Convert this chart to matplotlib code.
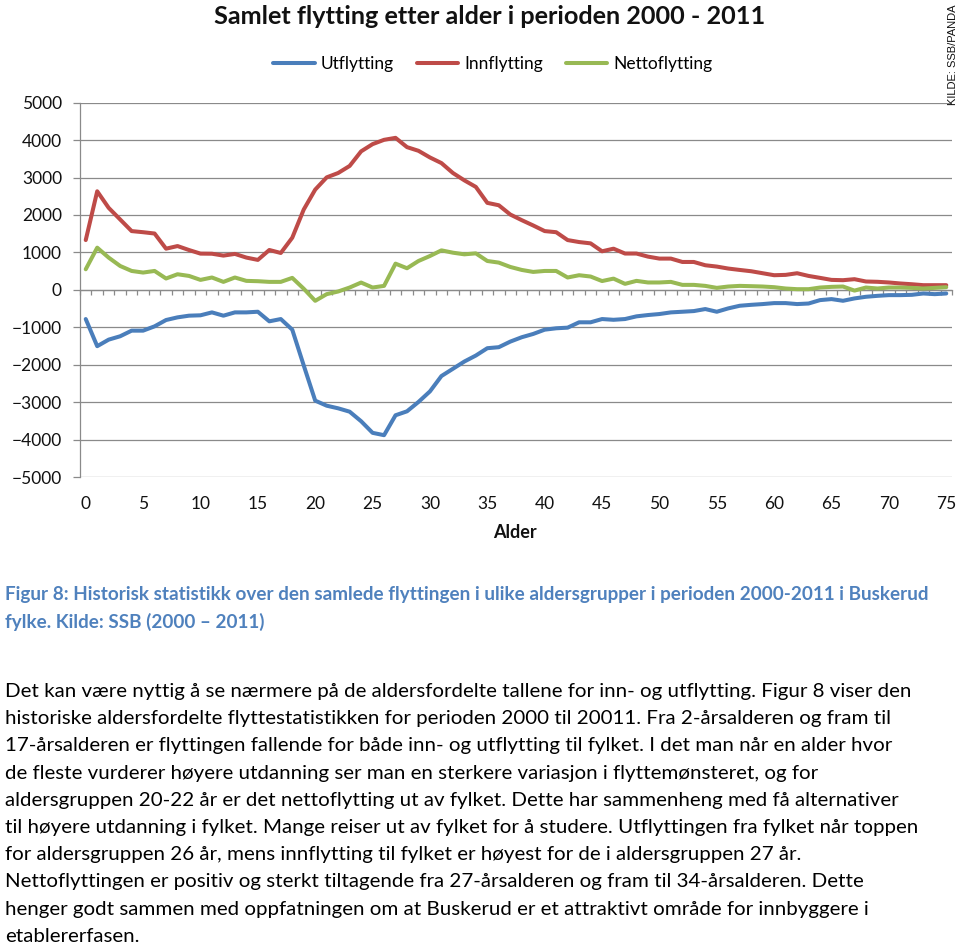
import numpy as np
import matplotlib
matplotlib.use("Agg")
import matplotlib.pyplot as plt

# ---------------- data ----------------
ages = list(range(76))
xtick_labels = [str(a) for a in range(0, 76, 5)]

utflytting = [-780, -1505, -1330, -1240, -1090, -1090, -975, -806, -735, -690,
              -680, -602, -690, -602, -602, -585, -841, -780, -1064, -2020,
              -2960, -3095, -3165, -3255, -3510, -3820, -3883, -3351, -3245, -2995,
              -2713, -2303, -2109, -1915, -1755, -1559, -1532, -1383, -1266, -1178,
              -1064, -1027, -1010, -867, -867, -780, -800, -780, -708, -673,
              -646, -602, -585, -567, -513, -585, -495, -425, -400, -380,
              -354, -354, -380, -365, -274, -247, -292, -229, -185, -160,
              -141, -141, -133, -97, -115, -97]

innflytting = [1330, 2633, 2190, 1880, 1570, 1540, 1505, 1100, 1170, 1064,
               968, 965, 915, 960, 862, 800, 1065, 985, 1393, 2146,
               2678, 3005, 3122, 3310, 3700, 3893, 4008, 4061, 3813, 3715,
               3537, 3387, 3122, 2925, 2750, 2324, 2260, 2013, 1862, 1720,
               1570, 1540, 1330, 1277, 1242, 1030, 1100, 970, 970, 888,
               835, 835, 745, 745, 657, 622, 569, 532, 497, 444,
               391, 400, 444, 372, 320, 266, 258, 285, 223, 215,
               197, 170, 150, 125, 125, 125]

nettoflytting = [550, 1127, 861, 638, 505, 462, 505, 303, 417, 372,
                 266, 330, 213, 330, 240, 231, 213, 213, 320, 30,
                 -293, -115, -44, 62, 195, 62, 106, 700, 577, 771,
                 904, 1055, 993, 949, 975, 771, 728, 612, 532, 479,
                 505, 505, 330, 391, 356, 235, 300, 160, 240, 197,
                 197, 213, 133, 133, 106, 53, 89, 106, 98, 89,
                 71, 36, 18, 18, 62, 80, 89, -20, 62, 36,
                 62, 62, 53, 36, 53, 71]

series_names = ["Utflytting", "Innflytting", "Nettoflytting"]
series_colors = ["#4A7EBB", "#BE4B48", "#98B954"]

title = "Samlet flytting etter alder i perioden 2000 - 2011"
xlabel = "Alder"
source = "KILDE: SSB/PANDA"

caption_lines = [
    "Figur 8: Historisk statistikk over den samlede flyttingen i ulike aldersgrupper i perioden 2000-2011 i Buskerud",
    "fylke. Kilde: SSB (2000 \u2013 2011)",
]
body_lines = [
    "Det kan være nyttig å se nærmere på de aldersfordelte tallene for inn- og utflytting. Figur 8 viser den",
    "historiske aldersfordelte flyttestatistikken for perioden 2000 til 20011. Fra 2-årsalderen og fram til",
    "17-årsalderen er flyttingen fallende for både inn- og utflytting til fylket. I det man når en alder hvor",
    "de fleste vurderer høyere utdanning ser man en sterkere variasjon i flyttemønsteret, og for",
    "aldersgruppen 20-22 år er det nettoflytting ut av fylket. Dette har sammenheng med få alternativer",
    "til høyere utdanning i fylket. Mange reiser ut av fylket for å studere. Utflyttingen fra fylket når toppen",
    "for aldersgruppen 26 år, mens innflytting til fylket er høyest for de i aldersgruppen 27 år.",
    "Nettoflyttingen er positiv og sterkt tiltagende fra 27-årsalderen og fram til 34-årsalderen. Dette",
    "henger godt sammen med oppfatningen om at Buskerud er et attraktivt område for innbyggere i",
    "etablererfasen.",
]

# ---------------- figure ----------------
W, H = 960, 944
plt.rcParams['font.family'] = ['Lato', 'DejaVu Sans']
fig = plt.figure(figsize=(W / 100, H / 100), dpi=100)
renderer = fig.canvas.get_renderer()


def fy(py):
    return 1 - py / H


def fx(px):
    return px / W


def fit(t, target_w):
    bb = t.get_window_extent(renderer)
    t.set_fontsize(t.get_fontsize() * target_w / bb.width)
    return t.get_fontsize()


grid_c = "#8a8a8a"
ax = fig.add_axes([fx(80), fy(477), fx(952) - fx(80), fy(102.7) - fy(477)])
for vals, name, col in zip([utflytting, innflytting, nettoflytting], series_names, series_colors):
    ax.plot(ages, vals, color=col, lw=2.9, label=name, solid_joinstyle='round',
            solid_capstyle='round', zorder=3)

ax.set_xlim(-0.5, 75.5)
ax.set_ylim(-5000, 5000)
ax.set_yticks(np.arange(-5000, 5001, 1000))
ax.yaxis.grid(True, color=grid_c, lw=0.9)
ax.set_axisbelow(True)
for s in ["top", "right"]:
    ax.spines[s].set_visible(False)
ax.spines["left"].set_color(grid_c)
ax.spines["left"].set_linewidth(0.9)
ax.spines["bottom"].set_position(("data", 0))
ax.spines["bottom"].set_color(grid_c)
ax.spines["bottom"].set_linewidth(0.9)
ax.tick_params(axis="y", length=5, color=grid_c, width=0.9, pad=8, labelsize=12.5,
               labelcolor="#111111")
ax.set_xticks(np.arange(-0.5, 76, 1))
ax.tick_params(axis="x", length=3.6, color=grid_c, width=0.9, labelbottom=False)

sec = ax.secondary_xaxis("bottom")
sec.set_xticks(np.arange(0, 76, 5))
sec.set_xticklabels(xtick_labels)
sec.tick_params(length=0, pad=14, labelsize=12.5, labelcolor="#111111")
sec.spines["bottom"].set_visible(False)

# title
t = fig.text(fx(490), fy(17), title, ha="center", va="center", fontsize=18, weight="bold",
             color="#111111")
fit(t, 553)

# legend
leg = fig.legend(loc="center", bbox_to_anchor=(fx(493), fy(64)), ncol=3, frameon=False,
                 fontsize=12.5, handlelength=2.4, handletextpad=0.35, columnspacing=1.3)

# x label
fig.text(fx(515), fy(533), xlabel, ha="center", va="center", fontsize=13, weight="bold",
         color="#111111")

# source
ts = fig.text(fx(953), fy(55), source, ha="center", va="center", rotation=90, fontsize=8,
              family=["Liberation Sans", "DejaVu Sans"], color="#111111")

# caption
cap_c = "#4F81BD"
c1 = fig.text(fx(5), fy(600), caption_lines[0], ha="left", va="baseline", fontsize=12,
              weight="bold", color=cap_c, family=["Liberation Sans Narrow", "Lato", "DejaVu Sans"])
cs = fit(c1, 914)
fig.text(fx(5), fy(628), caption_lines[1], ha="left", va="baseline", fontsize=cs,
         weight="bold", color=cap_c, family=["Liberation Sans Narrow", "Lato", "DejaVu Sans"])

# body text
b0 = fig.text(fx(5), fy(697), body_lines[0], ha="left", va="baseline", fontsize=14,
              color="#000000")
bs = fit(b0, 907)
for i, line in enumerate(body_lines[1:], start=1):
    fig.text(fx(5), fy(697 + i * 27.2), line, ha="left", va="baseline", fontsize=bs,
             color="#000000")

fig.savefig("out.png", dpi=100)
